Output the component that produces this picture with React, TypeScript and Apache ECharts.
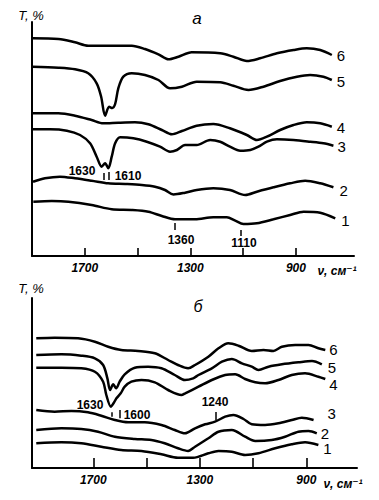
import React, { useEffect, useRef } from "react";
import * as echarts from "echarts";

const FONT = "'Liberation Sans', 'DejaVu Sans', sans-serif";

// wavenumber axis ticks (cm^-1)
const tickValues = [1700, 1500, 1300, 1100, 900];
const tickLabels = [1700, 1300, 900];
const curveNames = ["1", "2", "3", "4", "5", "6"];

// Panel а — [wavenumber, T (arb. units)]
const a1 = [[1895,54.3],[1825,55],[1762,54.3],[1674,51],[1598,46.7],[1522,46],[1459,44.3],[1408,40],[1358,36.7],[1282,36.7],[1213,38.7],[1162,38.7],[1130,35.3],[1099,32],[1048,32.7],[985,36.7],[922,41],[871,44.3],[808,43.3],[751,37.7]];
const a2 = [[1896,74.3],[1851,77.7],[1794,79.3],[1737,77.7],[1674,75.3],[1611,72.7],[1547,72],[1484,71],[1434,69.3],[1396,66],[1364,61.5],[1320,63.3],[1276,66],[1213,67.7],[1150,66],[1092,61],[1048,64.3],[985,68.7],[922,72.7],[865,75.3],[808,72.7],[758,68.7]];
const a3 = [[1898,126.7],[1832,126.7],[1768,125.3],[1718,121],[1680,112.7],[1655,99.3],[1636,89.3],[1623,92.7],[1611,87.7],[1598,99.3],[1585,112.7],[1566,118.7],[1516,117.7],[1465,114.3],[1415,109.3],[1377,104.3],[1351,106],[1320,111],[1276,111],[1225,116],[1187,114.3],[1150,109.3],[1111,105.3],[1073,106],[1042,109.3],[1010,114.3],[972,116.7],[909,116],[846,114.3],[796,112.7],[758,110.3]];
const a4 = [[1898,142.7],[1800,142.7],[1737,140.3],[1674,136],[1630,132.7],[1573,133.3],[1510,133.7],[1459,131.7],[1408,126],[1370,121.7],[1332,125],[1276,130.3],[1213,132],[1150,127.7],[1086,121],[1048,116],[1010,119.3],[960,126],[909,131],[859,133.7],[808,132.7],[764,129.3]];
const a5 = [[1898,189.3],[1800,188.3],[1737,186.7],[1687,182.7],[1655,172.7],[1638,159.3],[1623,140.3],[1608,149.3],[1596,148],[1585,152],[1573,167.7],[1554,179.3],[1522,182.7],[1472,181],[1421,176],[1377,167.7],[1332,169.3],[1276,174.3],[1187,173.7],[1137,170.3],[1080,166],[1023,169.3],[960,175],[896,179.3],[846,181],[796,179.3],[764,176]];
const a6 = [[1898,217.7],[1800,217],[1737,213.7],[1687,210.3],[1611,210.3],[1522,210.3],[1472,207],[1421,201.7],[1383,196.7],[1345,199.3],[1295,203.7],[1187,202.7],[1137,199.3],[1086,195],[1036,197.7],[972,202.7],[909,206],[859,207.7],[808,206],[764,201]];

// Panel б
const b1 = [[1914,24.7],[1820,25.7],[1745,24.7],[1670,21.3],[1595,18],[1519,17],[1444,13.7],[1382,10.3],[1325,10.3],[1268,14.7],[1230,17],[1180,16.3],[1130,13],[1080,14.7],[1017,19.7],[955,23.7],[905,25.7],[855,23]];
const b2 = [[1914,38],[1820,39.7],[1745,39],[1682,36.3],[1619,31.3],[1544,29],[1482,28],[1432,24.7],[1382,19.7],[1344,17],[1318,21.3],[1268,29.7],[1230,36.3],[1180,38],[1130,31.3],[1092,27],[1030,28],[980,31.3],[930,36.3],[892,37],[861,34.7]];
const b3 = [[1914,58],[1845,56.3],[1782,57],[1720,55.7],[1670,52.3],[1619,48],[1569,45.7],[1507,45.7],[1444,43],[1394,38],[1356,34.7],[1318,39.7],[1280,43.7],[1243,46.3],[1205,51.3],[1174,53],[1136,49],[1105,43.7],[1055,43],[1005,44.7],[955,48],[917,50.3],[873,48]];
const b4 = [[1914,100.3],[1820,100.3],[1745,99.7],[1694,96.3],[1663,86.3],[1651,73],[1634,61.3],[1624,64.7],[1613,69.7],[1597,74.7],[1582,81.3],[1557,86.3],[1519,88],[1469,85.7],[1419,78],[1369,73],[1355,74.7],[1305,81.3],[1255,88],[1205,93],[1167,93.7],[1130,89],[1092,85.7],[1055,84.7],[1005,88],[955,93],[905,94.7],[855,91.3],[829,89]];
const b5 = [[1914,113],[1820,113.7],[1745,112.3],[1694,109.7],[1663,103],[1647,89.7],[1637,78],[1625,83.7],[1614,79.7],[1601,86.3],[1582,93.7],[1544,100.3],[1494,101.3],[1444,99.7],[1394,93],[1356,88],[1325,89.7],[1305,93],[1255,99.7],[1217,106.3],[1180,109],[1142,104.7],[1105,101.3],[1080,98],[1042,101.3],[992,103.7],[930,105.7],[879,107],[842,103.7]];
const b6 = [[1914,129.7],[1845,130.3],[1757,129.7],[1694,126.3],[1644,121.3],[1595,118],[1532,117],[1469,114.7],[1419,108],[1382,103],[1344,99.7],[1318,103],[1268,111.3],[1230,119.7],[1193,124.7],[1155,122.3],[1105,117],[1061,118],[1024,117],[992,121.3],[942,123],[892,123],[855,119.7],[829,118]];

// band annotations: [wavenumber, T from, T to]
const bandsA = [[1630, 83, 76], [1610, 84, 76], [1360, 33, 26], [1110, 26, 20]];
const bandsB = [[1630, 55.7, 51.3], [1600, 58, 49.7], [1240, 56, 48]];
const bandLabelsA = ["1630", "1610", "1360", "1110"];
const bandLabelsB = ["1630", "1600", "1240"];

const panelA = [a1, a2, a3, a4, a5, a6];
const panelB = [b1, b2, b3, b4, b5, b6];

export default function App() {
  const ref = useRef<HTMLDivElement>(null);
  useEffect(() => {
    if (!ref.current) return;
    const chart = echarts.init(ref.current, null, { renderer: "svg" });

    const labelOffA = [[2, 2], [2, 3], [0, 1], [1, 1], [1, 1], [1, 0]];
    const labelOffB = [[1, 3], [0, 0], [10, -7], [0, 5], [2, 3], [0, -1]];

    const mkSeries = (data: number[][], i: number, panel: number, off: number[]) => ({
      type: "line",
      name: curveNames[i],
      xAxisIndex: panel,
      yAxisIndex: panel,
      data,
      smooth: 0.3,
      showSymbol: false,
      symbol: "none",
      lineStyle: { color: "#000", width: 2.5 },
      markPoint: {
        symbol: "circle",
        symbolSize: 0,
        silent: true,
        itemStyle: { color: "transparent" },
        label: {
          show: true,
          position: "right",
          distance: 4,
          offset: off,
          formatter: curveNames[i],
          color: "#000",
          fontSize: 15,
          fontFamily: FONT,
        },
        data: [{ coord: data[data.length - 1] }],
      },
      silent: true,
    });

    const markTicks = (bands: number[][]) => ({
      symbol: "none",
      silent: true,
      label: { show: false },
      lineStyle: { color: "#000", width: 1.5, type: "solid" },
      data: bands.map((b) => [{ coord: [b[0], b[1]] }, { coord: [b[0], b[2]] }]),
    });

    const seriesA = panelA.map((d, i) => mkSeries(d, i, 0, labelOffA[i]));
    const seriesB = panelB.map((d, i) => mkSeries(d, i, 1, labelOffB[i]));
    (seriesA[0] as any).markLine = markTicks(bandsA);
    (seriesB[0] as any).markLine = markTicks(bandsB);

    const xAxisBase = (idx: number, min: number, max: number, tickLen: number) => ({
      gridIndex: idx,
      type: "value",
      min,
      max,
      inverse: true,
      axisLine: { show: true, onZero: false, lineStyle: { color: "#000", width: 2 } },
      axisTick: {
        show: true,
        inside: true,
        length: tickLen,
        customValues: tickValues,
        lineStyle: { color: "#000", width: 1.6 },
      },
      axisLabel: {
        show: true,
        customValues: tickLabels,
        formatter: (v: number) => String(v),
        margin: 6,
        color: "#000",
        fontSize: 12,
        fontStyle: "italic",
        fontWeight: "bold",
        fontFamily: FONT,
      },
      splitLine: { show: false },
    });
    const yAxisBase = (idx: number, max: number) => ({
      gridIndex: idx,
      type: "value",
      min: 0,
      max,
      position: "left",
      axisLine: { show: true, onZero: false, lineStyle: { color: "#000", width: 2 } },
      axisTick: { show: false },
      axisLabel: { show: false },
      splitLine: { show: false },
    });

    const txt = (text: string, x: number, y: number, font: string) => ({
      type: "text",
      x,
      y,
      silent: true,
      style: { text, font, fill: "#000", textAlign: "center", textVerticalAlign: "middle" },
    });
    const numFont = `bold 12px ${FONT}`;

    chart.setOption({
      animation: false,
      backgroundColor: "#fff",
      grid: [
        { left: 32, top: 22, width: 322, height: 234 },
        { left: 32, top: 298, width: 325, height: 170 },
      ],
      xAxis: [xAxisBase(0, 680, 1900, 8), xAxisBase(1, 710, 1930, 10)],
      yAxis: [yAxisBase(0, 234), yAxisBase(1, 170)],
      series: [...seriesA, ...seriesB],
      graphic: [
        txt("T, %", 31, 15, `italic 13px ${FONT}`),
        txt("а", 197, 18, `italic 17px ${FONT}`),
        txt("ν, см⁻¹", 337, 271, `italic bold 12px ${FONT}`),
        txt(bandLabelsA[0], 82, 171, numFont),
        txt(bandLabelsA[1], 128, 176, numFont),
        txt(bandLabelsA[2], 181, 240, numFont),
        txt(bandLabelsA[3], 244, 243, numFont),
        txt("T, %", 31, 288, `italic 13px ${FONT}`),
        txt("б", 198, 306, `italic 16px ${FONT}`),
        txt("ν, см⁻¹", 343, 484, `italic bold 12px ${FONT}`),
        txt(bandLabelsB[0], 90, 405, numFont),
        txt(bandLabelsB[1], 137, 415, numFont),
        txt(bandLabelsB[2], 215, 402, numFont),
      ],
    });
    return () => chart.dispose();
  }, []);

  return (
    <div
      ref={ref}
      style={{ position: "fixed", left: 0, top: 0, width: 379, height: 500, background: "#fff" }}
    />
  );
}
